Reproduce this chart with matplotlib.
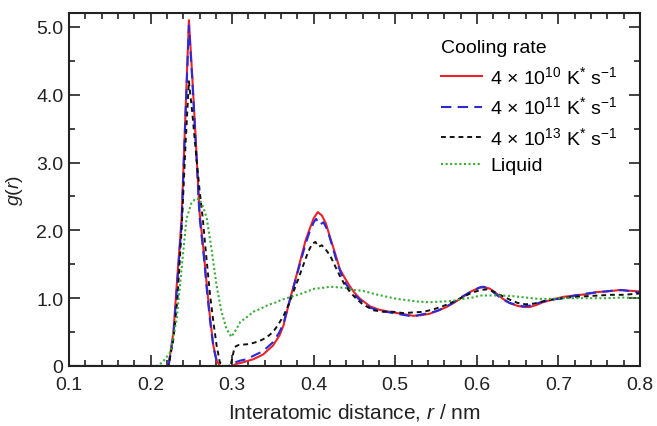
import matplotlib
matplotlib.use('Agg')
import matplotlib.pyplot as plt
from matplotlib.ticker import MultipleLocator, FuncFormatter

plt.rcParams['font.family'] = ['Liberation Sans', 'DejaVu Sans']
plt.rcParams['mathtext.fontset'] = 'custom'
plt.rcParams['mathtext.rm'] = 'Liberation Sans'
plt.rcParams['mathtext.it'] = 'Liberation Sans:italic'
plt.rcParams['mathtext.bf'] = 'Liberation Sans:bold'

# ---- data ----
r_red = [0.10, 0.20, 0.222, 0.228, 0.232, 0.238, 0.243, 0.247, 0.251, 0.256,
         0.260, 0.265, 0.269, 0.273, 0.277, 0.281, 0.285, 0.295, 0.300, 0.305,
         0.315, 0.326, 0.338, 0.350, 0.358, 0.363, 0.371, 0.377, 0.383, 0.390,
         0.395, 0.400, 0.405, 0.410, 0.415, 0.420, 0.426, 0.432, 0.438, 0.444,
         0.450, 0.457, 0.469, 0.480, 0.493, 0.507, 0.522, 0.532, 0.542, 0.553,
         0.563, 0.573, 0.583, 0.593, 0.604, 0.610, 0.616, 0.624, 0.632, 0.640,
         0.649, 0.657, 0.665, 0.673, 0.681, 0.693, 0.706, 0.720, 0.735, 0.747,
         0.760, 0.775, 0.787, 0.800]
g_red = [0, 0, 0, 0.5, 1.18, 2.17, 3.8, 5.1, 4.3, 3.2,
         2.27, 1.7, 1.18, 0.7, 0.3, 0.08, 0.0, 0.0, 0.0, 0.03,
         0.06, 0.1, 0.17, 0.3, 0.45, 0.6, 0.99, 1.25, 1.53, 1.85,
         2.02, 2.18, 2.27, 2.22, 2.1, 1.9, 1.67, 1.43, 1.3, 1.18,
         1.08, 0.99, 0.88, 0.83, 0.8, 0.77, 0.74, 0.75, 0.77, 0.82,
         0.87, 0.94, 1.02, 1.1, 1.16, 1.16, 1.14, 1.07, 0.99, 0.93,
         0.89, 0.87, 0.87, 0.9, 0.94, 0.98, 1.02, 1.04, 1.06, 1.09,
         1.1, 1.12, 1.11, 1.1]

r_blue = [0.10, 0.20, 0.222, 0.228, 0.232, 0.238, 0.243, 0.247, 0.251, 0.256,
          0.260, 0.265, 0.269, 0.273, 0.277, 0.281, 0.285, 0.295, 0.300, 0.305,
          0.310, 0.318, 0.326, 0.338, 0.350, 0.358, 0.363, 0.371, 0.377, 0.383,
          0.390, 0.395, 0.400, 0.403, 0.407, 0.412, 0.417, 0.422, 0.428, 0.434,
          0.440, 0.447, 0.457, 0.469, 0.480, 0.493, 0.507, 0.522, 0.532, 0.542,
          0.553, 0.563, 0.573, 0.583, 0.593, 0.602, 0.608, 0.616, 0.624, 0.632,
          0.640, 0.649, 0.657, 0.665, 0.673, 0.681, 0.693, 0.706, 0.720, 0.735,
          0.750, 0.765, 0.778, 0.790, 0.800]
g_blue = [0, 0, 0, 0.45, 1.1, 2.1, 3.75, 5.02, 4.25, 3.15,
          2.2, 1.65, 1.12, 0.66, 0.28, 0.07, 0.0, 0.0, 0.02, 0.06,
          0.08, 0.1, 0.15, 0.22, 0.35, 0.5, 0.63, 0.98, 1.24, 1.5,
          1.8, 1.98, 2.12, 2.17, 2.08, 2.12, 2.0, 1.8, 1.55, 1.35,
          1.2, 1.08, 0.97, 0.86, 0.82, 0.79, 0.76, 0.73, 0.76, 0.78,
          0.82, 0.88, 0.95, 1.03, 1.1, 1.15, 1.17, 1.13, 1.05, 0.98,
          0.93, 0.9, 0.88, 0.89, 0.92, 0.95, 0.98, 1.0, 1.04, 1.07,
          1.09, 1.11, 1.12, 1.1, 1.08]

r_black = [0.10, 0.20, 0.222, 0.228, 0.233, 0.238, 0.243, 0.247, 0.251, 0.256,
           0.260, 0.264, 0.268, 0.273, 0.277, 0.281, 0.285, 0.290, 0.298, 0.303,
           0.308, 0.318, 0.326, 0.334, 0.342, 0.350, 0.356, 0.363, 0.369, 0.375,
           0.381, 0.387, 0.393, 0.398, 0.402, 0.406, 0.410, 0.414, 0.420, 0.426,
           0.432, 0.438, 0.444, 0.450, 0.458, 0.466, 0.474, 0.485, 0.497, 0.510,
           0.522, 0.535, 0.548, 0.560, 0.572, 0.583, 0.594, 0.604, 0.612, 0.620,
           0.630, 0.640, 0.650, 0.660, 0.670, 0.680, 0.692, 0.705, 0.720, 0.735,
           0.750, 0.765, 0.780, 0.790, 0.800]
g_black = [0, 0, 0, 0.4, 1.0, 2.0, 3.3, 4.2, 3.75, 3.1,
           2.6, 2.17, 1.65, 1.04, 0.65, 0.3, 0.05, 0.0, 0.0, 0.28,
           0.31, 0.32, 0.34, 0.37, 0.42, 0.5, 0.6, 0.74, 0.9, 1.09,
           1.28, 1.48, 1.68, 1.8, 1.83, 1.76, 1.78, 1.73, 1.63, 1.48,
           1.33, 1.2, 1.1, 1.02, 0.93, 0.87, 0.82, 0.8, 0.8, 0.78,
           0.79, 0.8, 0.84, 0.89, 0.95, 1.02, 1.08, 1.12, 1.13, 1.1,
           1.04, 0.98, 0.93, 0.91, 0.92, 0.95, 0.98, 1.0, 1.02, 1.03,
           1.04, 1.05, 1.05, 1.06, 1.07]

r_liq = [0.10, 0.208, 0.215, 0.224, 0.232, 0.238, 0.244, 0.250, 0.255, 0.260,
         0.265, 0.269, 0.275, 0.281, 0.287, 0.293, 0.299, 0.304, 0.310, 0.318,
         0.326, 0.334, 0.344, 0.354, 0.361, 0.367, 0.375, 0.383, 0.392, 0.401,
         0.410, 0.420, 0.430, 0.440, 0.450, 0.460, 0.475, 0.490, 0.502, 0.515,
         0.528, 0.542, 0.556, 0.570, 0.583, 0.595, 0.604, 0.615, 0.630, 0.644,
         0.660, 0.675, 0.690, 0.705, 0.720, 0.740, 0.760, 0.780, 0.800]
g_liq = [0, 0, 0.06, 0.2, 0.69, 1.43, 2.17, 2.4, 2.47, 2.46,
         2.33, 2.17, 1.7, 1.18, 0.8, 0.55, 0.43, 0.52, 0.65, 0.72,
         0.8, 0.84, 0.9, 0.94, 0.98, 1.0, 1.03, 1.06, 1.1, 1.14,
         1.15, 1.17, 1.16, 1.15, 1.12, 1.11, 1.06, 1.02, 0.99, 0.97,
         0.95, 0.94, 0.95, 0.96, 0.99, 1.01, 1.04, 1.04, 1.04, 1.03,
         1.01, 0.99, 0.99, 1.0, 1.0, 1.0, 1.0, 1.01, 1.0]

labels = [r'4 $\times$ 10$^{10}$ K$^{*}$ s$^{-1}$',
          r'4 $\times$ 10$^{11}$ K$^{*}$ s$^{-1}$',
          r'4 $\times$ 10$^{13}$ K$^{*}$ s$^{-1}$',
          'Liquid']
x_ticks = [0.1, 0.2, 0.3, 0.4, 0.5, 0.6, 0.7, 0.8]
y_ticks = [0, 1, 2, 3, 4, 5]

# ---- figure ----
fig = plt.figure(figsize=(6.57, 4.27), dpi=100)
ax = fig.add_axes([69/657, 1-367/427, 571/657, 353/427])

ax.plot(r_red, g_red, color='#e8232b', lw=1.5, ls='-', label=labels[0])
ax.plot(r_blue, g_blue, color='#2a2ad8', lw=1.5, ls=(0, (5, 3)), label=labels[1])
ax.plot(r_black, g_black, color='#111111', lw=1.4, ls=(0, (2.5, 2)), label=labels[2])
ax.plot(r_liq, g_liq, color='#3aaa3a', lw=1.5, ls=(0, (1, 1.2)), label=labels[3])

ax.set_xlim(0.1, 0.8)
ax.set_ylim(0, 5.206)
ax.set_xticks(x_ticks)
ax.set_yticks(y_ticks)
ax.xaxis.set_minor_locator(MultipleLocator(0.02))
ax.yaxis.set_minor_locator(MultipleLocator(0.5))
ax.xaxis.set_major_formatter(FuncFormatter(lambda v, p: f'{v:.1f}'))
ax.yaxis.set_major_formatter(FuncFormatter(lambda v, p: '0' if abs(v) < 1e-9 else f'{v:.1f}'))
ax.tick_params(which='both', direction='in', top=True, right=True, width=1.2,
               labelsize=14, colors='#222222')
ax.tick_params(which='major', length=8)
ax.tick_params(which='minor', length=4.5)
ax.tick_params(axis='x', pad=7)
ax.tick_params(axis='y', pad=4)
for s in ax.spines.values():
    s.set_linewidth(1.5)
    s.set_color('#222222')

ax.set_xlabel(r'Interatomic distance, $r$ / nm', fontsize=15, labelpad=6, color='#222222')
ax.set_ylabel(r'$g$($r$)', fontsize=14, labelpad=8, color='#222222')

leg = ax.legend(loc='upper left', bbox_to_anchor=(0.651, 0.926), frameon=False,
                title='Cooling rate', fontsize=14, title_fontsize=14,
                handlelength=2.1, handletextpad=0.45, labelspacing=0.45,
                borderpad=0, borderaxespad=0, alignment='left')

fig.savefig('out.png', dpi=100)
